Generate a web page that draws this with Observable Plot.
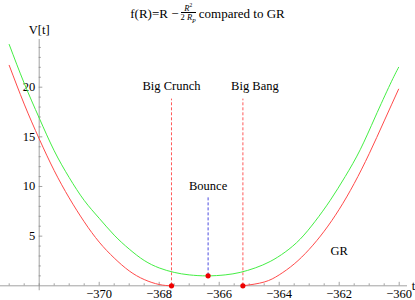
<!DOCTYPE html>
<html>
<head>
<meta charset="utf-8">
<script src="https://cdn.jsdelivr.net/npm/d3@7"></script>
<script src="https://cdn.jsdelivr.net/npm/@observablehq/plot@0.6"></script>
<style>
  body { margin: 0; background: #fff; }
  #title { position: relative; height: 22px; width: 415px; font-family: "Liberation Serif", serif; font-size: 13px; color: #000; }
  #title .t { position: absolute; left: 0; right: 0; top: 3px; text-align: center; white-space: nowrap; }
  .frac { display: inline-block; vertical-align: middle; text-align: center; font-size: 8.5px; line-height: 8px; font-style: italic; margin: 0 3px 0 2px; position: relative; top: -2px; }
  .frac .num { display: block; border-bottom: 0.6px solid #000; padding: 0 1px; }
  .frac .den { display: block; }
  .frac sub { font-size: 6px; }
  svg { overflow: visible; }
</style>
</head>
<body>
<div id="title"><span class="t">f(R)=R &minus;<span class="frac"><span class="num">R<sup style="font-size:5.5px;font-style:normal">2</sup></span><span class="den"><span style="font-style:normal">2</span> R<sub>P</sub></span></span>compared to GR</span></div>
<div id="chart"></div>
<script>
// GR solution: contracting branch and expanding branch
const grContractT = [-373.0, -372.5, -372.0, -371.5, -371.0, -370.5, -370.0, -369.5, -369.0, -368.5, -368.0, -367.59];
const grContractV = [22.2, 18.3, 14.8, 11.6, 8.85, 6.45, 4.4, 2.8, 1.5, 0.63, 0.13, 0];
const grExpandT = [-365.21, -364.5, -364.0, -363.5, -363.0, -362.5, -362.0, -361.5, -361.0, -360.5, -360.02];
const grExpandV = [0, 0.38, 1.1, 2.2, 3.67, 5.5, 7.7, 10.3, 13.3, 16.6, 19.8];
// f(R) bouncing solution
const bounceT = [-373.0, -372.5, -372.0, -371.5, -371.0, -370.5, -370.0, -369.5, -369.0, -368.5, -368.0, -367.5, -367.0, -366.4,
                 -365.8, -365.3, -364.8, -364.3, -363.8, -363.3, -362.8, -362.3, -361.8, -361.3, -360.8, -360.3, -360.02];
const bounceV = [24.3, 20.4, 16.9, 13.6, 10.9, 8.6, 6.8, 5.1, 3.7, 2.55, 1.8, 1.35, 1.1, 1.0,
                 1.1, 1.35, 1.8, 2.45, 3.4, 4.7, 6.5, 8.6, 11.0, 13.7, 17.0, 20.3, 22.0];
// special events
const eventNames = ["Big Crunch", "Big Bang", "Bounce"];
const eventT = [-367.59, -365.21, -366.37];
const eventV = [0, 0, 1.0];
// tick labels
const xTickLabels = [-370, -368, -366, -364, -362, -360];
const yTickLabels = [5, 10, 15, 20];

const grC = grContractT.map((t, i) => ({t, v: grContractV[i]}));
const grE = grExpandT.map((t, i) => ({t, v: grExpandV[i]}));
const bo = bounceT.map((t, i) => ({t, v: bounceV[i]}));
const events = eventNames.map((name, i) => ({name, t: eventT[i], v: eventV[i]}));

const xMinor = d3.range(-373, -359.9, 0.5).filter(d => !xTickLabels.includes(d));
const yMinor = d3.range(1, 25, 1).filter(d => !yTickLabels.includes(d));
const axisColor = "#8a8a8a";
const redDash = "#ff5a5a";
const fmt = d => String(d).replace("-", "\u2212");

const chart = Plot.plot({
  width: 415,
  height: 278,
  marginLeft: 0,
  marginRight: 8,
  marginTop: 20,
  marginBottom: 14.7,
  style: { fontFamily: "'Liberation Serif', serif", fontSize: "12.5px", background: "#fff", color: "#000" },
  x: { domain: [-373.29, -359.723], axis: null },
  y: { domain: [0, 24.5], axis: null },
  marks: [
    // axes
    Plot.ruleY([0], { stroke: axisColor, strokeWidth: 0.8 }),
    Plot.ruleX([-372], { y1: -0.5, y2: 24.8, stroke: axisColor, strokeWidth: 0.8 }),
    Plot.ruleX(xMinor, { x: d => d, y1: 0, y2: 0.2, stroke: axisColor, strokeWidth: 0.8 }),
    Plot.ruleX(xTickLabels, { x: d => d, y1: 0, y2: 0.35, stroke: axisColor, strokeWidth: 0.8 }),
    Plot.ruleY(yMinor, { y: d => d, x1: -372, x2: -371.93, stroke: axisColor, strokeWidth: 0.8 }),
    Plot.ruleY(yTickLabels, { y: d => d, x1: -372, x2: -371.88, stroke: axisColor, strokeWidth: 0.8 }),
    Plot.text(xTickLabels, { x: d => d, y: 0, dy: 8, text: fmt, fill: "#000" }),
    Plot.text(yTickLabels, { x: -372, y: d => d, dx: -4, textAnchor: "end", text: d => String(d), fill: "#000" }),
    Plot.text(["V[t]"], { x: -372, y: 25.8, text: d => d, fill: "#000" }),
    Plot.text(["t"], { x: -359.52, y: 0, text: d => d, fill: "#000" }),
    // event markers
    Plot.ruleX(events.filter(d => d.name !== "Bounce"), { x: "t", y1: 0, y2: 18.8, stroke: redDash, strokeWidth: 1, strokeDasharray: "3,2" }),
    Plot.ruleX(events.filter(d => d.name === "Bounce"), { x: "t", y1: "v", y2: 9.0, stroke: "#4a4ae0", strokeWidth: 1, strokeDasharray: "3,2" }),
    Plot.text(events.filter(d => d.name === "Big Crunch"), { x: "t", y: 20.07, text: "name", fill: "#000" }),
    Plot.text(events.filter(d => d.name === "Big Bang"), { x: d => d.t + 0.4, y: 20.07, text: "name", fill: "#000" }),
    Plot.text(events.filter(d => d.name === "Bounce"), { x: "t", y: 10.1, text: "name", fill: "#000" }),
    Plot.text(["GR"], { x: -362.0, y: 3.55, text: d => d, fill: "#000" }),
    // curves
    Plot.line(bo, { x: "t", y: "v", stroke: "#44ee44", strokeWidth: 1, curve: "natural" }),
    Plot.line(grC, { x: "t", y: "v", stroke: "#ff4a4a", strokeWidth: 1, curve: "natural" }),
    Plot.line(grE, { x: "t", y: "v", stroke: "#ff4a4a", strokeWidth: 1, curve: "natural" }),
    Plot.dot(events, { x: "t", y: "v", r: 2.6, fill: "#ee0000", stroke: "none" })
  ]
});
document.getElementById("chart").appendChild(chart);
</script>
</body>
</html>
